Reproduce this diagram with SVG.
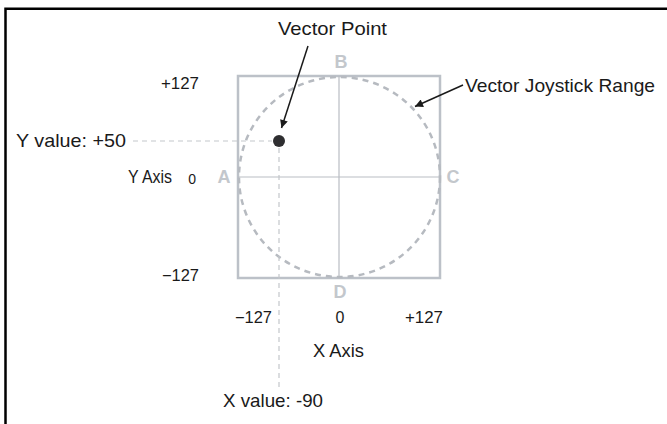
<svg xmlns="http://www.w3.org/2000/svg" width="667" height="424" viewBox="0 0 667 424">
  <defs>
    <marker id="arrow" viewBox="0 0 10 10" refX="10" refY="5" markerWidth="11" markerHeight="8" markerUnits="userSpaceOnUse" orient="auto">
      <path d="M0,0 L10,5 L0,10 z" fill="#1a1a1a"/>
    </marker>
    <style>
      text { font-family: "Liberation Sans", Arial, sans-serif; fill: #1a1a1a; }
      .lbl { font-size: 18.5px; }
      .num { font-size: 16px; }
      .small { font-size: 14px; }
      .letter { font-size: 18px; font-weight: bold; fill: #c3c7cc; }
      .frame { fill: none; stroke: #000; stroke-width: 2.5; }
      .box { fill: none; stroke: #bcc1c8; stroke-width: 2.5; }
      .cross { stroke: #b9bdc3; stroke-width: 1.2; }
      .range { fill: none; stroke: #b6bac0; stroke-width: 2.5; stroke-dasharray: 6 5; }
      .guide { fill: none; stroke: #c4c7cb; stroke-width: 1.2; stroke-dasharray: 5 4; }
      .pointer { fill: none; stroke: #1a1a1a; stroke-width: 1.5; }
    </style>
  </defs>

  <!-- outer frame (top and left edges visible) -->
  <path class="frame" d="M5.5,424 L5.5,8.7 L667,8.7"/>

  <g id="joystick-box">
    <rect class="box" x="238" y="76" width="202" height="202"/>
    <line class="cross" x1="339" y1="76" x2="339" y2="278"/>
    <line class="cross" x1="238" y1="177" x2="440" y2="177"/>
  </g>

  <g id="range-circle">
    <ellipse class="range" cx="339.5" cy="177" rx="100.5" ry="100"/>
  </g>

  <g id="corner-labels">
    <text class="letter" x="341" y="68" text-anchor="middle">B</text>
    <text class="letter" x="224" y="183" text-anchor="middle">A</text>
    <text class="letter" x="453" y="183" text-anchor="middle">C</text>
    <text class="letter" x="340" y="298" text-anchor="middle">D</text>
  </g>

  <g id="y-axis-labels">
    <text class="num" x="199" y="89" text-anchor="end" textLength="38" lengthAdjust="spacingAndGlyphs">+127</text>
    <text class="lbl" x="128" y="183" textLength="44" lengthAdjust="spacingAndGlyphs">Y Axis</text>
    <text class="small" x="196" y="184" text-anchor="end">0</text>
    <text class="num" x="199" y="281" text-anchor="end" textLength="37" lengthAdjust="spacingAndGlyphs">−127</text>
  </g>

  <g id="x-axis-labels">
    <text class="num" x="235" y="323" textLength="37" lengthAdjust="spacingAndGlyphs">−127</text>
    <text class="num" x="340" y="323" text-anchor="middle">0</text>
    <text class="num" x="405" y="323" textLength="38" lengthAdjust="spacingAndGlyphs">+127</text>
    <text class="lbl" x="313" y="357" textLength="51" lengthAdjust="spacingAndGlyphs">X Axis</text>
  </g>

  <g id="vector-point">
    <circle cx="279" cy="141" r="6" fill="#2e2e30"/>
  </g>

  <g id="value-labels">
    <text class="lbl" x="16" y="147" textLength="110" lengthAdjust="spacingAndGlyphs">Y value: +50</text>
    <text class="lbl" x="223" y="407" textLength="100" lengthAdjust="spacingAndGlyphs">X value: -90</text>
  </g>

  <g id="callout-labels">
    <text class="lbl" x="278" y="35" textLength="109" lengthAdjust="spacingAndGlyphs">Vector Point</text>
    <text class="lbl" x="465" y="92" textLength="190" lengthAdjust="spacingAndGlyphs">Vector Joystick Range</text>
  </g>

  <g id="connectors">
    <line class="guide" x1="133" y1="141" x2="272" y2="141"/>
    <line class="guide" x1="279" y1="148" x2="279" y2="388"/>
    <line class="pointer" x1="308" y1="46" x2="281.5" y2="128" marker-end="url(#arrow)"/>
    <line class="pointer" x1="463" y1="85" x2="415" y2="106.5" marker-end="url(#arrow)"/>
  </g>
</svg>
